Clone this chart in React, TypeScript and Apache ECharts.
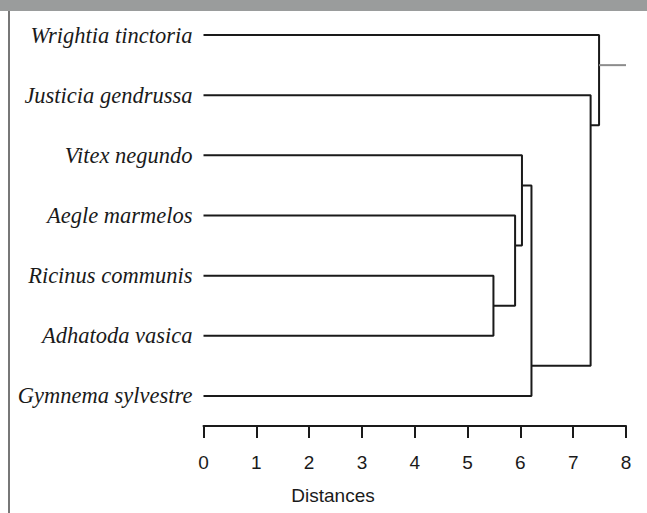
import React, { useEffect, useRef } from "react";
import * as echarts from "echarts";

// Leaves, top to bottom
const leaves = [
  "Wrightia tinctoria",
  "Justicia gendrussa",
  "Vitex negundo",
  "Aegle marmelos",
  "Ricinus communis",
  "Adhatoda vasica",
  "Gymnema sylvestre",
];

// Merges: each joins node a and node b at a linkage distance.
// Nodes 0..6 are leaves; merge k creates node 7+k.
// nodeRow = vertical position (in leaf rows) where the new node's stem is drawn.
const mergeA = [4, 3, 2, 6, 1, 0];
const mergeB = [5, 7, 8, 9, 10, 11];
const mergeDist = [5.49, 5.9, 6.03, 6.21, 7.33, 7.49];
const mergeRow = [4.5, 3.5, 2.5, 5.5, 1.5, 0.5];

const xTicks = [0, 1, 2, 3, 4, 5, 6, 7, 8];
const axisMax = 8;

export default function App() {
  const ref = useRef<HTMLDivElement>(null);
  useEffect(() => {
    if (!ref.current) return;
    const chart = echarts.init(ref.current, null, { renderer: "svg" });

    const nodeX: number[] = leaves.map(() => 0);
    const nodeY: number[] = leaves.map((_, i) => i);
    mergeDist.forEach((d, k) => {
      nodeX.push(d);
      nodeY.push(mergeRow[k]);
    });

    const lineStyle = { color: "#1a1a1a", width: 2 };
    const series: any[] = mergeDist.map((d, k) => {
      const a = mergeA[k];
      const b = mergeB[k];
      return {
        type: "line",
        xAxisIndex: 0,
        yAxisIndex: 0,
        symbol: "none",
        silent: true,
        clip: false,
        lineStyle,
        data: [
          [nodeX[a], nodeY[a]],
          [d, nodeY[a]],
          [d, nodeY[b]],
          [nodeX[b], nodeY[b]],
        ],
      };
    });
    const root = nodeX.length - 1;
    series.push({
      type: "line",
      xAxisIndex: 0,
      yAxisIndex: 0,
      symbol: "none",
      silent: true,
      clip: false,
      lineStyle: { color: "#8c8c8c", width: 2 },
      data: [
        [nodeX[root], nodeY[root]],
        [axisMax, nodeY[root]],
      ],
    });

    chart.setOption({
      animation: false,
      backgroundColor: "#ffffff",
      grid: { left: 203.5, right: 21, top: 5, height: 421, containLabel: false },
      xAxis: {
        type: "value",
        min: 0,
        max: axisMax,
        interval: 1,
        position: "bottom",
        splitLine: { show: false },
        axisLine: { show: true, onZero: false, lineStyle: { color: "#1a1a1a", width: 2 } },
        axisTick: { show: true, length: 12, lineStyle: { color: "#1a1a1a", width: 2 } },
        axisLabel: {
          margin: 27,
          fontFamily: "Liberation Sans, Arial, sans-serif",
          fontSize: 19,
          color: "#1a1a1a",
          formatter: (v: number) => (xTicks.includes(v) ? String(v) : ""),
        },
      },
      yAxis: [
        {
          type: "value",
          min: -0.5,
          max: 6.5,
          inverse: true,
          show: false,
          splitLine: { show: false },
        },
        {
          type: "category",
          data: leaves,
          inverse: true,
          position: "left",
          boundaryGap: true,
          axisLine: { show: false },
          axisTick: { show: false },
          splitLine: { show: false },
          axisLabel: {
            margin: 11,
            fontFamily: "Liberation Serif, Times New Roman, serif",
            fontStyle: "italic",
            fontSize: 22.5,
            color: "#1a1a1a",
          },
        },
      ],
      graphic: [
        {
          type: "rect",
          shape: { x: 0, y: 0, width: 647, height: 11 },
          style: { fill: "#9a9c9c" },
          silent: true,
        },
        {
          type: "line",
          shape: { x1: 9, y1: 11, x2: 9, y2: 513 },
          style: { stroke: "#4a4a4a", lineWidth: 1.5 },
          silent: true,
        },
        {
          type: "text",
          x: 333,
          y: 495,
          style: {
            text: "Distances",
            fontFamily: "Liberation Sans, Arial, sans-serif",
            fontSize: 19,
            fill: "#1a1a1a",
            align: "center",
            verticalAlign: "middle",
          },
          silent: true,
        },
      ],
      series,
    });
    return () => chart.dispose();
  }, []);
  return <div ref={ref} style={{ width: 647, height: 513, position: "absolute", left: 0, top: 0 }} />;
}
